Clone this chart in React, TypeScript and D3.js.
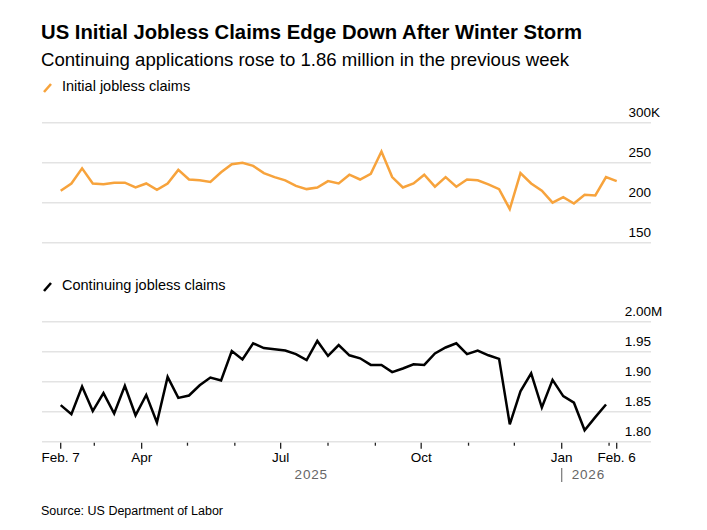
import React, { useRef, useEffect } from "react";
import * as d3 from "d3";

// weekly initial claims (thousands), week of Feb 7 2025 .. Feb 6 2026
const initialClaims = [
  215, 224, 243, 224, 223, 225, 225, 219, 224, 216, 224, 241, 229, 228,
  226, 238, 248, 250, 246, 237, 232, 228, 221, 217, 219, 227, 224, 235,
  229, 236, 264, 232, 219, 224, 235, 220, 232, 220, 229, 228, 223, 217,
  192, 237, 224, 215, 200, 207, 199, 210, 209, 232, 227,
];

// continuing claims (millions), one week behind
const continuingClaims = [
  1.861, 1.846, 1.892, 1.851, 1.881, 1.847, 1.893, 1.844, 1.878, 1.832,
  1.908, 1.873, 1.877, 1.894, 1.907, 1.902, 1.951, 1.937, 1.964, 1.956,
  1.954, 1.952, 1.946, 1.936, 1.968, 1.943, 1.961, 1.944, 1.939, 1.928,
  1.928, 1.916, 1.922, 1.929, 1.928, 1.947, 1.957, 1.964, 1.946, 1.952,
  1.944, 1.938, 1.829, 1.884, 1.914, 1.857, 1.903, 1.876, 1.865, 1.819,
  1.841, 1.862,
];

const initialTicks = [150, 200, 250, 300];
const continuingTicks = [1.8, 1.85, 1.9, 1.95, 2.0];

const startDate = new Date(2025, 1, 7);
const endDate = new Date(2026, 1, 6);
const weeks = d3.timeFriday.range(startDate, new Date(2026, 1, 7));

const majorTicks = [
  { date: startDate, label: "Feb. 7" },
  { date: new Date(2025, 3, 1), label: "Apr" },
  { date: new Date(2025, 6, 1), label: "Jul" },
  { date: new Date(2025, 9, 1), label: "Oct" },
  { date: new Date(2026, 0, 1), label: "Jan" },
  { date: endDate, label: "Feb. 6" },
];
const minorTicks = [
  new Date(2025, 2, 1),
  new Date(2025, 4, 1),
  new Date(2025, 5, 1),
  new Date(2025, 7, 1),
  new Date(2025, 8, 1),
  new Date(2025, 10, 1),
  new Date(2025, 11, 1),
  new Date(2026, 1, 1),
];

const FONT = "'Liberation Sans', Arial, Helvetica, sans-serif";
const ORANGE = "#f7a33c";
const GRID = "#e3e3e3";

const App: React.FC = () => {
  const ref = useRef<SVGSVGElement | null>(null);

  useEffect(() => {
    if (!ref.current) return;
    const svg = d3.select(ref.current);
    svg.selectAll("*").remove();

    const width = 707;
    const height = 530;
    svg.attr("width", width).attr("height", height).attr("viewBox", `0 0 ${width} ${height}`);
    svg.append("rect").attr("width", width).attr("height", height).attr("fill", "#fff");

    const gridLeft = 42;
    const gridRight = 651;

    const x = d3.scaleTime().domain([startDate, endDate]).range([60.7, 616.7]);
    const yTop = d3.scaleLinear().domain([150, 300]).range([242.7, 122.7]);
    const yBot = d3.scaleLinear().domain([1.8, 2.0]).range([441.7, 321.7]);

    // titles
    svg.append("text")
      .attr("x", 41).attr("y", 39)
      .attr("font-family", FONT).attr("font-size", 20.3).attr("font-weight", "bold")
      .attr("fill", "#000")
      .text("US Initial Jobless Claims Edge Down After Winter Storm");
    svg.append("text")
      .attr("x", 41).attr("y", 65.5)
      .attr("font-family", FONT).attr("font-size", 18.6)
      .attr("fill", "#000")
      .text("Continuing applications rose to 1.86 million in the previous week");

    const legend = (yBase: number, color: string, label: string) => {
      svg.append("line")
        .attr("x1", 44).attr("y1", yBase + 1)
        .attr("x2", 51).attr("y2", yBase - 7)
        .attr("stroke", color).attr("stroke-width", 2.5);
      svg.append("text")
        .attr("x", 62).attr("y", yBase)
        .attr("font-family", FONT).attr("font-size", 14.5)
        .attr("fill", "#000")
        .text(label);
    };
    legend(91, ORANGE, "Initial jobless claims");
    legend(290, "#000", "Continuing jobless claims");

    // gridlines + y labels
    const panel = (
      ticks: number[],
      y: d3.ScaleLinear<number, number>,
      fmt: (v: number) => string,
      suffix: string
    ) => {
      const g = svg.append("g");
      g.selectAll("line.grid")
        .data(ticks)
        .enter()
        .append("line")
        .attr("x1", gridLeft).attr("x2", gridRight)
        .attr("y1", (d) => y(d)).attr("y2", (d) => y(d))
        .attr("stroke", GRID).attr("stroke-width", 1.5);
      const top = d3.max(ticks) as number;
      g.selectAll("text.lab")
        .data(ticks)
        .enter()
        .append("text")
        .attr("x", gridRight)
        .attr("y", (d) => y(d) - 6)
        .attr("text-anchor", "end")
        .attr("font-family", FONT).attr("font-size", 13.5)
        .attr("fill", "#000")
        .text((d) => fmt(d));
      g.append("text")
        .attr("x", gridRight)
        .attr("y", y(top) - 6)
        .attr("font-family", FONT).attr("font-size", 13.5)
        .attr("fill", "#000")
        .text(suffix);
    };
    panel(initialTicks, yTop, (v) => d3.format("d")(v), "K");
    panel(continuingTicks, yBot, (v) => d3.format(".2f")(v), "M");

    // lines
    const lineTop = d3.line<number>()
      .x((_, i) => x(weeks[i]))
      .y((d) => yTop(d));
    svg.append("path")
      .datum(initialClaims)
      .attr("d", lineTop)
      .attr("fill", "none")
      .attr("stroke", ORANGE)
      .attr("stroke-width", 2.5)
      .attr("stroke-linejoin", "miter");

    const lineBot = d3.line<number>()
      .x((_, i) => x(weeks[i]))
      .y((d) => yBot(d));
    svg.append("path")
      .datum(continuingClaims)
      .attr("d", lineBot)
      .attr("fill", "none")
      .attr("stroke", "#000")
      .attr("stroke-width", 2.5)
      .attr("stroke-linejoin", "miter");

    // x axis ticks
    const axisY = yBot(1.8);
    svg.selectAll("line.major")
      .data(majorTicks)
      .enter()
      .append("line")
      .attr("x1", (d) => x(d.date)).attr("x2", (d) => x(d.date))
      .attr("y1", axisY + 1).attr("y2", axisY + 7)
      .attr("stroke", "#222").attr("stroke-width", 1.3);
    svg.selectAll("line.minor")
      .data(minorTicks)
      .enter()
      .append("line")
      .attr("x1", (d) => x(d)).attr("x2", (d) => x(d))
      .attr("y1", axisY + 1).attr("y2", axisY + 4)
      .attr("stroke", "#222").attr("stroke-width", 1.3);
    svg.selectAll("text.xlab")
      .data(majorTicks)
      .enter()
      .append("text")
      .attr("x", (d) => x(d.date))
      .attr("y", 462)
      .attr("text-anchor", "middle")
      .attr("font-family", FONT).attr("font-size", 13.5)
      .attr("fill", "#000")
      .text((d) => d.label);

    // years
    const jan = x(new Date(2026, 0, 1));
    svg.append("text")
      .attr("x", (x(startDate) + jan) / 2)
      .attr("y", 479)
      .attr("text-anchor", "middle")
      .attr("font-family", FONT).attr("font-size", 13.5)
      .attr("letter-spacing", 0.8)
      .attr("fill", "#666")
      .text("2025");
    svg.append("line")
      .attr("x1", jan).attr("x2", jan)
      .attr("y1", 468).attr("y2", 482)
      .attr("stroke", "#777").attr("stroke-width", 1.2);
    svg.append("text")
      .attr("x", jan + 10)
      .attr("y", 479)
      .attr("font-family", FONT).attr("font-size", 13.5)
      .attr("letter-spacing", 0.8)
      .attr("fill", "#666")
      .text("2026");

    svg.append("text")
      .attr("x", 41).attr("y", 515)
      .attr("font-family", FONT).attr("font-size", 12.5)
      .attr("fill", "#000")
      .text("Source: US Department of Labor");
  }, []);

  return <svg ref={ref} style={{ position: "absolute", left: 0, top: 0, display: "block" }} />;
};

export default App;
